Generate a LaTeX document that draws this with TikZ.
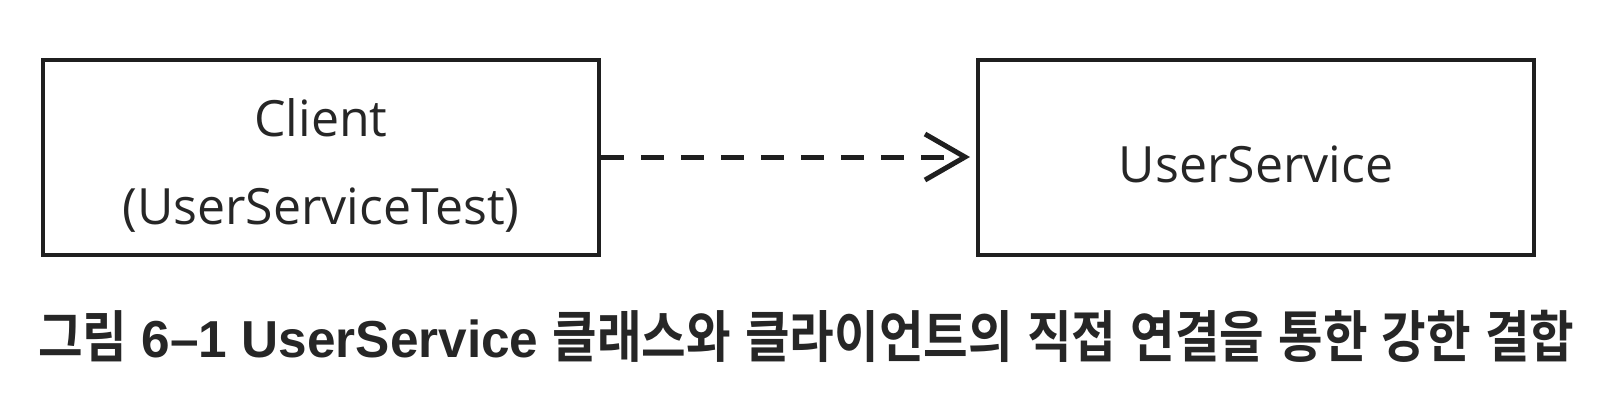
\documentclass[tikz,border=0pt]{standalone}
\usepackage{fontspec}
\usepackage{graphicx}
\setmainfont{Open Sans}
\newfontfamily\krfont{Noto Sans CJK KR}[BoldFont={Noto Sans CJK KR Bold},BoldFeatures={FakeStretch=0.85}]
\newfontfamily\latcap{Liberation Sans}[BoldFeatures={FakeStretch=0.97}]
\usetikzlibrary{arrows.meta}
\begin{document}
\begin{tikzpicture}[x=0.5pt,y=-0.5pt,
  boxstyle/.style={draw=black!88, line width=2pt, minimum width=278pt, minimum height=97.5pt, inner sep=0pt},
  labelstyle/.style={font=\fontsize{25pt}{30pt}\selectfont, text=black!85, inner sep=0pt},
  depline/.style={line width=2.5pt, dash pattern=on 11.5pt off 8.5pt, draw=black!88, -{Straight Barb[length=20pt,width=23pt,line width=2.5pt]}},
  captionstyle/.style={font=\krfont\bfseries\fontsize{28pt}{32pt}\selectfont, text=black!85, inner sep=0pt, anchor=west}]
\useasboundingbox (0,0) rectangle (1608,404);
\node[boxstyle] (client) at (321,157) {};
\node[boxstyle] (service) at (1256,157) {};
\node[labelstyle] (clientname) at (321,118) {Client};
\node[labelstyle] (clienttest) at (321,210) {(UserServiceTest)};
\node[labelstyle] (servicename) at (1256,164) {UserService};
\draw[depline] (client.east) -- ([xshift=-3pt]service.west);
\node[captionstyle] (cap) at (38,336) {\resizebox{768pt}{\height}{그림\hspace{7pt}{\latcap\bfseries\fontsize{26pt}{30pt}\selectfont 6–1 UserService}\hspace{7pt}클래스와\hspace{7pt}클라이언트의\hspace{7pt}직접\hspace{7pt}연결을\hspace{7pt}통한\hspace{7pt}강한\hspace{7pt}결합}};
\end{tikzpicture}
\end{document}
